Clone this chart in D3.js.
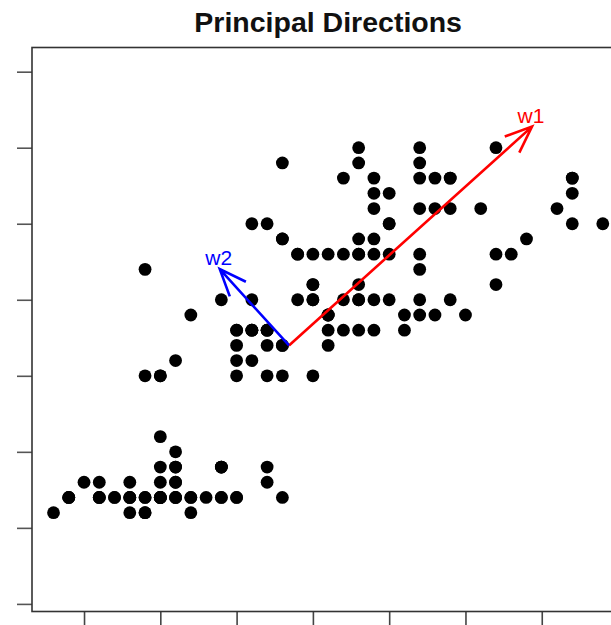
<!DOCTYPE html>
<html>
<head>
<meta charset="utf-8">
<script src="https://cdn.jsdelivr.net/npm/d3@7"></script>
<style>
	body { margin: 0; background: #fff; overflow: hidden; }
	svg { display: block; }
</style>
</head>
<body>
<div id="chart"></div>
<script>
/**
 * Principal directions of iris: sepal length vs petal width,
 * arrows = mean + 2*sqrt(eigenvalue)*eigenvector
 */
var sepalLength = [
	5.1, 4.9, 4.7, 4.6, 5.0, 5.4, 4.6, 5.0, 4.4, 4.9, 5.4, 4.8, 4.8, 4.3, 5.8, 5.7, 5.4, 5.1, 5.7, 5.1,
	5.4, 5.1, 4.6, 5.1, 4.8, 5.0, 5.0, 5.2, 5.2, 4.7, 4.8, 5.4, 5.2, 5.5, 4.9, 5.0, 5.5, 4.9, 4.4, 5.1,
	5.0, 4.5, 4.4, 5.0, 5.1, 4.8, 5.1, 4.6, 5.3, 5.0,
	7.0, 6.4, 6.9, 5.5, 6.5, 5.7, 6.3, 4.9, 6.6, 5.2, 5.0, 5.9, 6.0, 6.1, 5.6, 6.7, 5.6, 5.8, 6.2, 5.6,
	5.9, 6.1, 6.3, 6.1, 6.4, 6.6, 6.8, 6.7, 6.0, 5.7, 5.5, 5.5, 5.8, 6.0, 5.4, 6.0, 6.7, 6.3, 5.6, 5.5,
	5.5, 6.1, 5.8, 5.0, 5.6, 5.7, 5.7, 6.2, 5.1, 5.7,
	6.3, 5.8, 7.1, 6.3, 6.5, 7.6, 4.9, 7.3, 6.7, 7.2, 6.5, 6.4, 6.8, 5.7, 5.8, 6.4, 6.5, 7.7, 7.7, 6.0,
	6.9, 5.6, 7.7, 6.3, 6.7, 7.2, 6.2, 6.1, 6.4, 7.2, 7.4, 7.9, 6.4, 6.3, 6.1, 7.7, 6.3, 6.4, 6.0, 6.9,
	6.7, 6.9, 5.8, 6.8, 6.7, 6.7, 6.3, 6.5, 6.2, 5.9
];
var petalWidth = [
	0.2, 0.2, 0.2, 0.2, 0.2, 0.4, 0.3, 0.2, 0.2, 0.1, 0.2, 0.2, 0.1, 0.1, 0.2, 0.4, 0.4, 0.3, 0.3, 0.3,
	0.2, 0.4, 0.2, 0.5, 0.2, 0.2, 0.4, 0.2, 0.2, 0.2, 0.2, 0.4, 0.1, 0.2, 0.2, 0.2, 0.2, 0.1, 0.2, 0.2,
	0.3, 0.3, 0.2, 0.6, 0.4, 0.3, 0.2, 0.2, 0.2, 0.2,
	1.4, 1.5, 1.5, 1.3, 1.5, 1.3, 1.6, 1.0, 1.3, 1.4, 1.0, 1.5, 1.0, 1.4, 1.3, 1.4, 1.5, 1.0, 1.5, 1.1,
	1.8, 1.3, 1.5, 1.2, 1.3, 1.4, 1.4, 1.7, 1.5, 1.0, 1.1, 1.0, 1.2, 1.6, 1.5, 1.6, 1.5, 1.3, 1.3, 1.3,
	1.2, 1.4, 1.2, 1.0, 1.3, 1.2, 1.3, 1.3, 1.1, 1.3,
	2.5, 1.9, 2.1, 1.8, 2.2, 2.1, 1.7, 1.8, 1.8, 2.5, 2.0, 1.9, 2.1, 2.0, 2.4, 2.3, 1.8, 2.2, 2.3, 1.5,
	2.3, 2.0, 2.0, 1.8, 2.1, 1.8, 1.8, 1.8, 2.1, 1.6, 1.9, 2.0, 2.2, 1.5, 1.4, 2.3, 2.4, 1.8, 1.8, 2.1,
	2.4, 2.3, 1.9, 2.3, 2.5, 2.3, 1.9, 2.0, 2.3, 1.8
];
var xTicks = [4.5, 5.0, 5.5, 6.0, 6.5, 7.0, 7.5, 8.0];
var yTicks = [-0.5, 0.0, 0.5, 1.0, 1.5, 2.0, 2.5, 3.0];
var arrowNames = ['w1', 'w2'];
var arrowColors = ['#ff0000', '#0000ff'];

window.onload = draw_plot;

function draw_plot() {
	var width = 611, height = 625;
	var box = {left: 32, right: 624.3, top: 47.5, bottom: 611.5};

	var svg = d3.select('#chart')
		.append('svg')
		.attr('width', width)
		.attr('height', height);

	var x = d3.scaleLinear()
		.domain([4.159, 8.041])
		.range([box.left, box.right]);
	var y = d3.scaleLinear()
		.domain([-0.55, 3.159])
		.range([box.bottom, box.top]);

	// principal directions from the 2x2 covariance matrix
	var n = sepalLength.length;
	var mx = d3.mean(sepalLength), my = d3.mean(petalWidth);
	var sxx = 0, syy = 0, sxy = 0;
	for (var i = 0; i < n; ++i) {
		var dx = sepalLength[i] - mx, dy = petalWidth[i] - my;
		sxx += dx * dx; syy += dy * dy; sxy += dx * dy;
	}
	sxx /= n - 1; syy /= n - 1; sxy /= n - 1;
	var tr = sxx + syy, det = sxx * syy - sxy * sxy;
	var disc = Math.sqrt(tr * tr / 4 - det);
	var lambdas = [tr / 2 + disc, tr / 2 - disc];
	var arrows = lambdas.map(function(l, k) {
		var vx = sxy, vy = l - sxx;
		var len = Math.sqrt(vx * vx + vy * vy);
		var s = 2 * Math.sqrt(l) / len;
		// keep both arrows pointing upwards
		if (vy < 0) s = -s;
		return {name: arrowNames[k], color: arrowColors[k],
			x0: mx, y0: my, x1: mx + vx * s, y1: my + vy * s};
	});

	// points
	svg.append('g')
	    .selectAll('circle')
	    .data(d3.range(n))
	    .enter()
	    .append('circle')
	    .attr('cx', function(i) { return x(sepalLength[i]); })
	    .attr('cy', function(i) { return y(petalWidth[i]); })
	    .attr('r', 6.4)
	    .style('fill', '#000');

	// axes, labels fall outside the picture
	svg.append('g')
	    .attr('transform', 'translate(' + box.left + ',0)')
	    .call(d3.axisLeft(y).tickValues(yTicks).tickSize(15).tickFormat(''))
	    .call(function(g) { g.select('.domain').remove(); })
	    .selectAll('line')
	    .attr('stroke', '#555')
	    .attr('stroke-width', 1.6);

	svg.append('g')
	    .attr('transform', 'translate(0,' + box.bottom + ')')
	    .call(d3.axisBottom(x).tickValues(xTicks).tickSize(15).tickFormat(''))
	    .call(function(g) { g.select('.domain').remove(); })
	    .selectAll('line')
	    .attr('stroke', '#444')
	    .attr('stroke-width', 1.6);

	svg.append('rect')
	    .attr('x', box.left)
	    .attr('y', box.top)
	    .attr('width', box.right - box.left)
	    .attr('height', box.bottom - box.top)
	    .style('fill', 'none')
	    .style('stroke', '#333')
	    .style('stroke-width', 1.6);

	// arrows with open heads
	var headLen = 29, headAng = 22 * Math.PI / 180;
	var ag = svg.selectAll('.arrow')
	    .data(arrows)
	    .enter()
	    .append('g')
	    .attr('class', 'arrow');

	ag.append('path')
	    .attr('d', function(d) {
		    var px0 = x(d.x0), py0 = y(d.y0), px1 = x(d.x1), py1 = y(d.y1);
		    var a = Math.atan2(py0 - py1, px0 - px1);
		    var h1 = [px1 + headLen * Math.cos(a + headAng), py1 + headLen * Math.sin(a + headAng)];
		    var h2 = [px1 + headLen * Math.cos(a - headAng), py1 + headLen * Math.sin(a - headAng)];
		    return 'M' + px0 + ',' + py0 + 'L' + px1 + ',' + py1 +
			'M' + h1[0] + ',' + h1[1] + 'L' + px1 + ',' + py1 + 'L' + h2[0] + ',' + h2[1];
	    })
	    .style('fill', 'none')
	    .style('stroke', function(d) { return d.color; })
	    .style('stroke-width', 2.6);

	ag.append('text')
	    .attr('x', function(d) { return x(d.x1) - 1; })
	    .attr('y', function(d) { return y(d.y1) - 4; })
	    .style('text-anchor', 'middle')
	    .style('font-family', '"Liberation Sans", Arial, sans-serif')
	    .style('font-size', '21px')
	    .style('fill', function(d) { return d.color; })
	    .text(function(d) { return d.name; });

	svg.append('text')
	    .attr('x', (box.left + box.right) / 2)
	    .attr('y', 32)
	    .style('text-anchor', 'middle')
	    .style('font-family', '"Liberation Sans", Arial, sans-serif')
	    .style('font-weight', 'bold')
	    .style('font-size', '28.5px')
	    .style('fill', '#111')
	    .text('Principal Directions');
}
</script>
</body>
</html>
